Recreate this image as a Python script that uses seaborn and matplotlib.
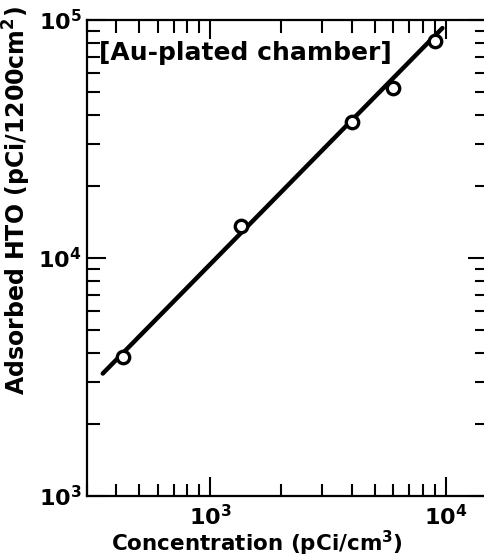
import numpy as np
import matplotlib
matplotlib.use("Agg")
import matplotlib.pyplot as plt
import matplotlib.ticker as mticker
import seaborn as sns

# measured points (concentration vs adsorbed HTO)
conc = [427, 1353, 4010, 5980, 8980]
adsorbed = [3840, 13600, 37100, 51600, 81800]

# fitted line endpoints
line_x = [350, 9700]
line_y = [3270, 92500]

sns.set_style("ticks")
plt.rcParams['font.family'] = ['DejaVu Sans']
plt.rcParams['font.weight'] = 'bold'
plt.rcParams['text.color'] = 'black'
plt.rcParams['axes.labelcolor'] = 'black'
plt.rcParams['mathtext.default'] = 'regular'

fig = plt.figure(figsize=(4.84, 5.59), dpi=100)
ax = fig.add_axes([87 / 484, 1 - 496 / 559, 400 / 484, 476 / 559])

sns.lineplot(x=line_x, y=line_y, ax=ax, color="black", lw=3.2, zorder=2)
sns.scatterplot(x=conc, y=adsorbed, ax=ax, marker="o", s=80, facecolor="white",
                edgecolor="black", linewidth=2.4, zorder=3)

ax.set_xscale("log")
ax.set_yscale("log")
ax.set_xlim(300, 15000)
ax.set_ylim(1e3, 1e5)

for s in ax.spines.values():
    s.set_linewidth(1.6)
    s.set_color("black")

ax.tick_params(which="both", direction="in", top=True, right=True, width=1.5,
               colors="black", labelsize=16)
ax.tick_params(which="major", length=13.5, pad=4)
ax.tick_params(which="minor", length=9)
ax.tick_params(axis="x", which="major", pad=6)
ax.xaxis.set_major_formatter(mticker.LogFormatterSciNotation())
ax.yaxis.set_major_formatter(mticker.LogFormatterSciNotation())

ax.set_xlabel("Concentration (pCi/cm$^3$)", fontsize=15.5, fontweight="bold")
ax.xaxis.set_label_coords(0.425, -0.068)
ax.set_ylabel("Adsorbed HTO (pCi/1200cm$^2$)", fontsize=17, fontweight="bold")
ax.yaxis.set_label_coords(-0.135, 0.62)

ax.text(0.03, 0.955, "[Au-plated chamber]", transform=ax.transAxes, fontsize=18,
        fontweight="bold", va="top", ha="left")

fig.savefig("out.png", dpi=100)
